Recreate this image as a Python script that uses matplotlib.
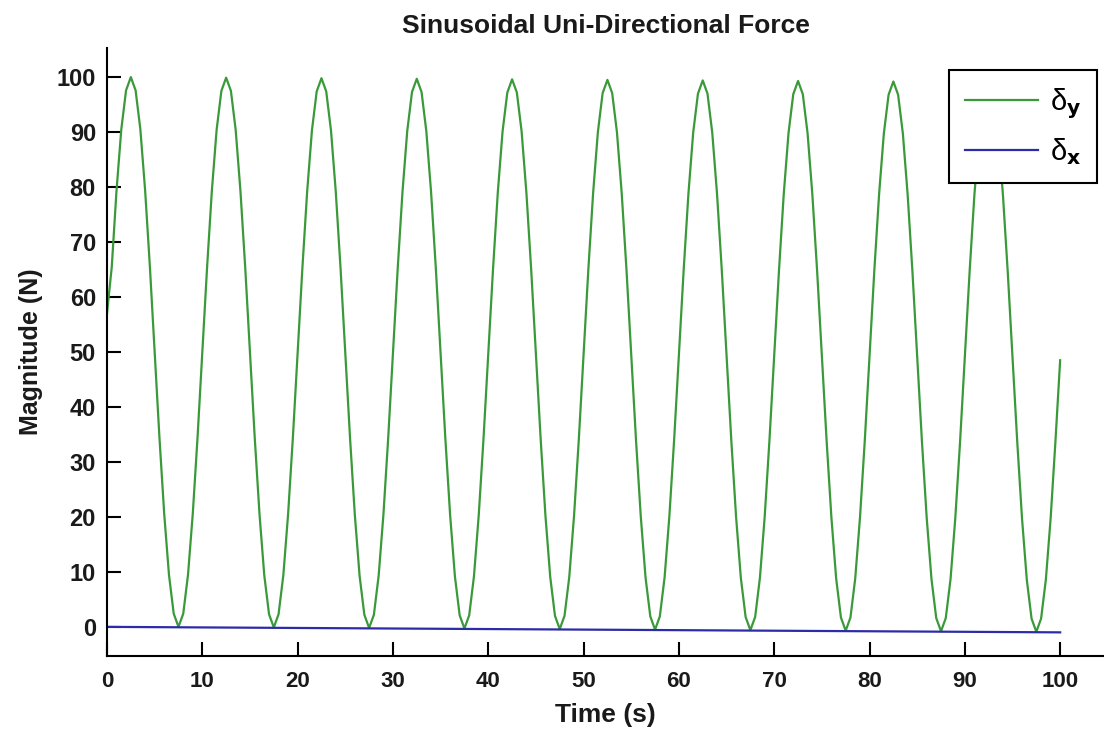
import numpy as np
import matplotlib
matplotlib.use("Agg")
import matplotlib.pyplot as plt

# Force samples read every 0.5 s (N)
force_y = [
    57.0, 65.5, 79.4, 90.5, 97.6, 100.0, 97.6, 90.5, 79.4, 65.5, 50.0, 34.5, 20.6, 9.5, 2.4, 0.0, 2.4, 9.5, 20.6, 34.5,
    49.9, 65.4, 79.3, 90.4, 97.5, 99.9, 97.5, 90.4, 79.3, 65.4, 49.9, 34.4, 20.5, 9.4, 2.3, -0.1, 2.3, 9.4, 20.5, 34.4,
    49.8, 65.3, 79.2, 90.3, 97.4, 99.8, 97.4, 90.3, 79.2, 65.3, 49.8, 34.3, 20.4, 9.3, 2.2, -0.2, 2.2, 9.3, 20.4, 34.3,
    49.7, 65.2, 79.1, 90.2, 97.3, 99.7, 97.3, 90.2, 79.1, 65.2, 49.7, 34.2, 20.3, 9.2, 2.1, -0.3, 2.1, 9.2, 20.3, 34.2,
    49.6, 65.1, 79.0, 90.1, 97.2, 99.6, 97.2, 90.1, 79.0, 65.1, 49.6, 34.1, 20.2, 9.1, 2.0, -0.4, 2.0, 9.1, 20.2, 34.1,
    49.5, 65.0, 78.9, 90.0, 97.1, 99.5, 97.1, 90.0, 78.9, 65.0, 49.5, 34.0, 20.1, 9.0, 1.9, -0.5, 1.9, 9.0, 20.1, 34.0,
    49.4, 64.9, 78.8, 89.9, 97.0, 99.4, 97.0, 89.9, 78.8, 64.9, 49.4, 33.9, 20.0, 8.9, 1.8, -0.6, 1.8, 8.9, 20.0, 33.9,
    49.3, 64.8, 78.7, 89.8, 96.9, 99.3, 96.9, 89.8, 78.7, 64.8, 49.3, 33.8, 19.9, 8.8, 1.7, -0.7, 1.7, 8.8, 19.9, 33.8,
    49.2, 64.7, 78.6, 89.7, 96.8, 99.2, 96.8, 89.7, 78.6, 64.7, 49.2, 33.7, 19.8, 8.7, 1.6, -0.8, 1.6, 8.7, 19.8, 33.7,
    49.1, 64.6, 78.5, 89.6, 96.7, 99.1, 96.7, 89.6, 78.5, 64.6, 49.1, 33.6, 19.7, 8.6, 1.5, -0.9, 1.5, 8.6, 19.7, 33.6,
    48.5,
]
time_y = np.linspace(0, 100, len(force_y))

# Cross-direction force, every 10 s
time_x = [0, 10, 20, 30, 40, 50, 60, 70, 80, 90, 100]
force_x = [0.0, -0.1, -0.2, -0.3, -0.4, -0.5, -0.6, -0.7, -0.8, -0.9, -1.0]

xticks = list(range(0, 101, 10))
yticks = list(range(0, 101, 10))

font = ["Liberation Sans", "DejaVu Sans"]
ink = "#1a1a1a"

fig = plt.figure(figsize=(11.04, 7.34), dpi=100)
ax = fig.add_axes([107 / 1104, 78 / 734, 997 / 1104, 608 / 734])

ax.plot(time_y, force_y, color="#3a9a3a", lw=1.6, label="δ$_\\mathbf{y}$")
ax.plot(time_x, force_x, color="#2c2ca8", lw=1.6, label="δ$_\\mathbf{x}$")

ax.set_xlim(0, 104.6)
ax.set_ylim(-5.3, 105.3)
ax.set_xticks(xticks)
ax.set_yticks(yticks)
ax.set_xticklabels([str(v) for v in xticks], family=font, fontsize=16, fontweight="bold", color=ink)
ax.set_yticklabels([str(v) for v in yticks], family=font, fontsize=17, fontweight="bold", color=ink)
ax.tick_params(direction="in", length=10, width=1.5, pad=8)
ax.tick_params(axis="x", pad=11)

for side in ("top", "right"):
    ax.spines[side].set_visible(False)
for side in ("left", "bottom"):
    ax.spines[side].set_linewidth(1.5)

ax.set_title("Sinusoidal Uni-Directional Force", family=font, fontsize=19,
             fontweight="bold", pad=11, color=ink)
ax.set_xlabel("Time (s)", family=font, fontsize=19, fontweight="bold", labelpad=8, color=ink)
ax.set_ylabel("Magnitude (N)", family=font, fontsize=18, fontweight="bold", labelpad=10, color=ink)

leg = ax.legend(loc="upper right", bbox_to_anchor=(0.993, 0.964), borderaxespad=0,
                fancybox=False, edgecolor="black", prop={"family": font, "size": 21},
                handlelength=2.5, handletextpad=0.4, labelspacing=0.55, borderpad=0.55,
                framealpha=1)
leg.get_frame().set_linewidth(1.5)

fig.savefig("out.png", dpi=100)
